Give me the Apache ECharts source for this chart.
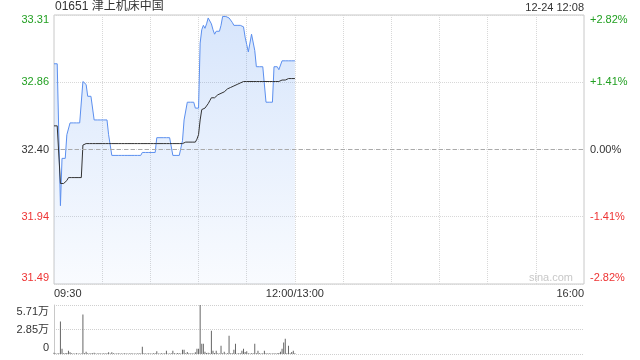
<!DOCTYPE html>
<html><head><meta charset="utf-8">
<script src="https://cdn.jsdelivr.net/npm/echarts@6/dist/echarts.min.js"></script>
<style>html,body{margin:0;padding:0;background:#fff}#c{width:640px;height:360px}</style>
</head><body><div id="c"></div>
<script>
const title = '01651 津上机床中国';
const stamp = '12-24 12:08';
const watermark = 'sina.com';
const prevClose = 32.40;
const priceTicks = ['31.49', '31.94', '32.40', '32.86', '33.31'];
const pctTicks = ['-2.82%', '-1.41%', '0.00%', '+1.41%', '+2.82%'];
const volTicks = ['0', '2.85万', '5.71万'];
const timeTicks = ['09:30', '12:00/13:00', '16:00'];

const price = [
  32.98, 32.98, 32.98, 32.98, 32.02, 32.34, 32.34, 32.34, 32.50, 32.50,
  32.58, 32.58, 32.58, 32.58, 32.58, 32.58, 32.58, 32.58, 32.86, 32.85,
  32.84, 32.76, 32.76, 32.76, 32.76, 32.60, 32.60, 32.60, 32.60, 32.60,
  32.60, 32.60, 32.60, 32.60, 32.50, 32.50, 32.36, 32.36, 32.36, 32.36,
  32.36, 32.36, 32.36, 32.36, 32.36, 32.36, 32.36, 32.36, 32.36, 32.36,
  32.36, 32.36, 32.36, 32.36, 32.36, 32.38, 32.38, 32.38, 32.38, 32.38,
  32.38, 32.38, 32.38, 32.38, 32.48, 32.48, 32.48, 32.48, 32.48, 32.48,
  32.48, 32.48, 32.48, 32.48, 32.36, 32.36, 32.36, 32.36, 32.36, 32.36,
  32.46, 32.60, 32.60, 32.72, 32.72, 32.72, 32.72, 32.72, 32.68, 32.68,
  32.68, 33.12, 33.21, 33.24, 33.22, 33.25, 33.29, 33.30, 33.25, 33.21,
  33.18, 33.20, 33.20, 33.20, 33.24, 33.30, 33.30, 33.30, 33.30, 33.29,
  33.28, 33.26, 33.24, 33.24, 33.24, 33.24, 33.24, 33.24, 33.23, 33.16,
  33.11, 33.06, 33.06, 33.18, 33.19, 33.07, 32.96, 32.96, 32.96, 32.96,
  32.96, 32.96, 32.72, 32.72, 32.72, 32.72, 32.72, 32.96, 32.96, 32.96,
  32.94, 32.94, 33.00, 33.00, 33.00, 33.00, 33.00, 33.00, 33.00, 33.00,
  33.00
];

const avgPrice = [
  32.56, 32.56, 32.56, 32.56, 32.17, 32.17, 32.17, 32.17, 32.19, 32.21,
  32.21, 32.21, 32.21, 32.21, 32.21, 32.21, 32.21, 32.21, 32.43, 32.44,
  32.44, 32.44, 32.44, 32.44, 32.44, 32.44, 32.44, 32.44, 32.44, 32.44,
  32.44, 32.44, 32.44, 32.44, 32.44, 32.44, 32.44, 32.44, 32.44, 32.44,
  32.44, 32.44, 32.44, 32.44, 32.44, 32.44, 32.44, 32.44, 32.44, 32.44,
  32.44, 32.44, 32.44, 32.44, 32.44, 32.44, 32.44, 32.44, 32.44, 32.44,
  32.44, 32.44, 32.44, 32.44, 32.44, 32.44, 32.44, 32.44, 32.44, 32.44,
  32.44, 32.44, 32.44, 32.44, 32.44, 32.44, 32.44, 32.44, 32.44, 32.44,
  32.44, 32.44, 32.45, 32.45, 32.45, 32.45, 32.45, 32.45, 32.45, 32.47,
  32.50, 32.60, 32.67, 32.67, 32.68, 32.68, 32.71, 32.73, 32.75, 32.75,
  32.75, 32.76, 32.77, 32.77, 32.78, 32.78, 32.79, 32.80, 32.81, 32.82,
  32.82, 32.83, 32.83, 32.84, 32.84, 32.85, 32.85, 32.85, 32.86, 32.86,
  32.86, 32.86, 32.86, 32.86, 32.86, 32.86, 32.86, 32.86, 32.86, 32.86,
  32.86, 32.86, 32.86, 32.86, 32.86, 32.86, 32.86, 32.86, 32.86, 32.86,
  32.86, 32.86, 32.87, 32.87, 32.87, 32.88, 32.88, 32.88, 32.88, 32.88,
  32.88
];

// volume in 万
const volume = [
  0.15, 0.05, 0.06, 0.08, 3.79, 0.62, 0.10, 0.08, 0.12, 0.39,
  0.19, 0.08, 0.06, 0.05, 0.08, 0.06, 0.05, 0.07, 4.60, 0.10,
  0.27, 0.08, 0.06, 0.08, 0.10, 0.15, 0.06, 0.05, 0.08, 0.06,
  0.05, 0.10, 0.06, 0.08, 0.19, 0.06, 0.19, 0.08, 0.05, 0.06,
  0.08, 0.05, 0.06, 0.05, 0.08, 0.05, 0.06, 0.05, 0.08, 0.06,
  0.05, 0.06, 0.05, 0.08, 0.06, 0.85, 0.08, 0.06, 0.05, 0.08,
  0.06, 0.05, 0.10, 0.08, 0.31, 0.06, 0.05, 0.08, 0.06, 0.10,
  0.39, 0.06, 0.05, 0.08, 0.39, 0.10, 0.06, 0.12, 0.08, 0.06,
  0.50, 0.50, 0.08, 0.23, 0.10, 0.06, 0.08, 0.06, 0.19, 0.62,
  0.62, 5.71, 1.20, 1.20, 0.27, 0.12, 0.15, 0.08, 2.70, 0.39,
  0.12, 0.39, 0.08, 0.06, 0.97, 0.10, 0.27, 0.06, 0.08, 2.13,
  0.10, 0.08, 0.50, 1.20, 0.06, 0.08, 0.10, 0.39, 0.62, 0.23,
  0.31, 0.08, 0.06, 0.10, 0.08, 1.20, 0.10, 0.39, 0.08, 0.06,
  0.08, 0.39, 0.10, 0.06, 0.08, 0.06, 0.05, 0.08, 0.06, 0.10,
  0.12, 0.27, 0.62, 1.35, 1.78, 0.10, 0.97, 0.08, 0.23, 0.39,
  0.10
];

function hhmm(t) {
  const h = Math.floor(t / 60), m = t % 60;
  return (h < 10 ? '0' : '') + h + ':' + (m < 10 ? '0' : '') + m;
}
const categories = [];
for (let t = 9 * 60 + 30; t <= 12 * 60; t++) categories.push(hhmm(t));
for (let t = 13 * 60 + 1; t <= 16 * 60; t++) categories.push(hhmm(t));
const lastIdx = categories.length - 1;
const midIdx = categories.indexOf('12:00');

const GREEN = '#22a022', RED = '#ee3333', DARK = '#333';
const FONT = '"Liberation Sans", Arial, "Noto Sans CJK SC", sans-serif';
const FS = 11;

function tokenStyles() {
  return {
    gt: { color: GREEN, fontSize: FS, fontFamily: FONT, padding: [10, 0, 0, 0] },
    g: { color: GREEN, fontSize: FS, fontFamily: FONT },
    k: { color: DARK, fontSize: FS, fontFamily: FONT },
    r: { color: RED, fontSize: FS, fontFamily: FONT },
    rb: { color: RED, fontSize: FS, fontFamily: FONT, padding: [0, 0, 12, 0] },
    kt: { color: DARK, fontSize: FS, fontFamily: FONT, padding: [14, 0, 0, 0] },
    kb: { color: DARK, fontSize: FS, fontFamily: FONT, padding: [0, 0, 12, 0] }
  };
}
const styleByIdx = ['rb', 'r', 'k', 'g', 'gt'];

const pMin = 31.49, pMax = 33.31, pInt = (pMax - pMin) / 4;
const vMax = 5.71;

const chart = echarts.init(document.getElementById('c'), null, { renderer: 'canvas' });
chart.setOption({
  animation: false,
  backgroundColor: '#fff',
  textStyle: { fontFamily: FONT },
  graphic: [
    { type: 'text', left: 55, top: 1, style: { text: title, font: '12px ' + FONT, fill: DARK } },
    { type: 'text', right: 56, top: 2, style: { text: stamp, font: '11px ' + FONT, fill: DARK } },
    { type: 'text', right: 67, top: 272, style: { text: watermark, font: '11px ' + FONT, fill: '#c8c8c8' } }
  ],
  grid: [
    { left: 54, right: 56, top: 15, height: 269, show: true, borderColor: '#c8c8c8', borderWidth: 1, backgroundColor: 'transparent' },
    { left: 54, right: 56, top: 305, height: 49 }
  ],
  xAxis: [
    {
      type: 'category', gridIndex: 0, data: categories, boundaryGap: false,
      axisLine: { show: false }, axisTick: { show: false },
      splitLine: { show: true, interval: (i) => i % 30 === 0 && i !== 0 && i !== lastIdx, lineStyle: { color: '#d8d8d8', type: 'dotted' } },
      axisLabel: {
        interval: (i) => i === 0 || i === midIdx || i === lastIdx,
        formatter: (v, i) => i === 0 ? timeTicks[0] : (i === midIdx ? timeTicks[1] : timeTicks[2]),
        color: DARK, fontSize: FS, fontFamily: FONT, margin: 4,
        alignMinLabel: 'left', alignMaxLabel: 'right', showMinLabel: true, showMaxLabel: true
      }
    },
    {
      type: 'category', gridIndex: 1, data: categories, boundaryGap: false,
      axisLine: { show: false }, axisTick: { show: false }, axisLabel: { show: false }, splitLine: { show: false }
    }
  ],
  yAxis: [
    {
      type: 'value', gridIndex: 0, min: pMin, max: pMax, interval: pInt, position: 'left',
      axisLine: { show: false }, axisTick: { show: false },
      splitLine: { show: true, lineStyle: { color: '#d8d8d8', type: 'dotted' } },
      axisLabel: {
        margin: 5, fontSize: FS,
        formatter: (v, i) => '{' + styleByIdx[i] + '|' + priceTicks[i] + '}',
        rich: tokenStyles()
      }
    },
    {
      type: 'value', gridIndex: 0, min: pMin, max: pMax, interval: pInt, position: 'right',
      axisLine: { show: false }, axisTick: { show: false }, splitLine: { show: false },
      axisLabel: {
        margin: 6, fontSize: FS,
        formatter: (v, i) => '{' + styleByIdx[i] + '|' + pctTicks[i] + '}',
        rich: tokenStyles()
      }
    },
    {
      type: 'value', gridIndex: 1, min: 0, max: vMax, interval: vMax / 2,
      axisLine: { show: true, lineStyle: { color: '#c8c8c8' } }, axisTick: { show: false },
      splitLine: { show: true, lineStyle: { color: '#cfcfcf', type: 'dotted' } },
      axisLabel: {
        margin: 5, fontSize: FS,
        formatter: (v, i) => i === 0 ? '{kb|' + volTicks[0] + '}' : (i === 2 ? '{kt|' + volTicks[2] + '}' : '{k|' + volTicks[1] + '}'),
        rich: tokenStyles()
      }
    }
  ],
  series: [
    {
      name: 'price', type: 'line', xAxisIndex: 0, yAxisIndex: 0, data: price,
      showSymbol: false, symbol: 'none',
      lineStyle: { color: '#5b8fef', width: 1 },
      areaStyle: {
        color: new echarts.graphic.LinearGradient(0, 0, 0, 1, [
          { offset: 0, color: 'rgba(79,142,240,0.32)' },
          { offset: 1, color: 'rgba(79,142,240,0.05)' }
        ])
      },
      markLine: {
        silent: true, symbol: 'none', label: { show: false },
        lineStyle: { color: '#aaaaaa', type: [4, 3], width: 1 },
        data: [{ yAxis: prevClose }]
      },
      z: 3
    },
    {
      name: 'avg', type: 'line', xAxisIndex: 0, yAxisIndex: 0, data: avgPrice,
      showSymbol: false, symbol: 'none',
      lineStyle: { color: '#333', width: 1 }, z: 4
    },
    {
      name: 'volume', type: 'bar', xAxisIndex: 1, yAxisIndex: 2, data: volume,
      barWidth: 1, itemStyle: { color: '#666' }
    }
  ]
});
</script>
</body></html>
